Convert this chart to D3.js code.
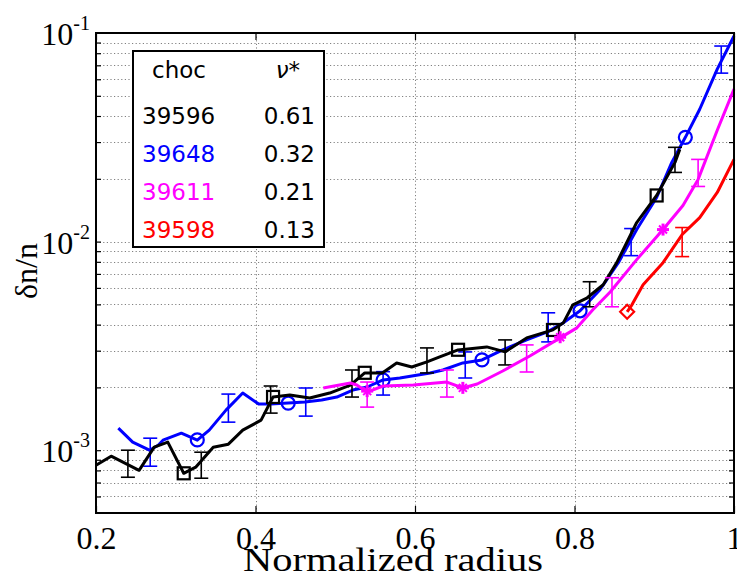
<!DOCTYPE html>
<html><head><meta charset="utf-8">
<script src="https://cdn.jsdelivr.net/npm/d3@7"></script>
<style>body{margin:0;background:#fff}svg{display:block}</style>
</head><body>
<svg id="c" width="737" height="587"></svg>
<script>
// ---- data ----
const xTicks = [0.2, 0.4, 0.6, 0.8, 1];
const xTickLabels = ["0.2", "0.4", "0.6", "0.8", "1"];
const xGrid = [0.4, 0.6, 0.8];
const yTicks = [1e-3, 1e-2, 1e-1];
const yTickExp = ["-3", "-2", "-1"];

const blackR = [0.200,0.219,0.254,0.273,0.290,0.310,0.325,0.347,0.366,0.384,0.407,0.422,0.443,0.468,0.493,0.519,0.537,0.559,0.577,0.596,0.615,0.631,0.654,0.690,0.713,0.740,0.773,0.786,0.798,0.816,0.836,0.853,0.878,0.903,0.926,0.932];
const blackV = [0.000847,0.000936,0.000801,0.001034,0.001093,0.000775,0.000829,0.001034,0.001069,0.001248,0.001393,0.001798,0.001838,0.001778,0.001879,0.002053,0.002346,0.002346,0.002620,0.002506,0.002649,0.002800,0.003025,0.003127,0.002959,0.003455,0.003774,0.004079,0.004978,0.005379,0.006213,0.007926,0.012343,0.016640,0.02398,0.02768];
const blackMarkR = [0.310,0.422,0.537,0.654,0.773,0.903];
const blackMarkV = [0.000775,0.00180,0.00235,0.00303,0.00377,0.01664];
const blackErrR = [0.240,0.332,0.419,0.521,0.615,0.713,0.819,0.926];
const blackErrHi = [0.00100,0.000978,0.002031,0.002424,0.003093,0.003379,0.006421,0.02831];
const blackErrLo = [0.000742,0.000734,0.001506,0.001798,0.002346,0.002563,0.004870,0.02146];

const blueR = [0.228,0.246,0.267,0.278,0.284,0.307,0.327,0.342,0.363,0.384,0.404,0.419,0.441,0.462,0.483,0.502,0.522,0.540,0.560,0.581,0.619,0.635,0.660,0.684,0.710,0.740,0.766,0.786,0.807,0.832,0.855,0.878,0.903,0.922,0.939,0.957,0.979,1.0];
const blueV = [0.001276,0.001093,0.001000,0.001057,0.001117,0.001207,0.001117,0.001248,0.001557,0.001879,0.001664,0.001664,0.001682,0.001701,0.001739,0.001798,0.001943,0.002009,0.002171,0.002219,0.002346,0.002424,0.002620,0.002708,0.003025,0.003379,0.003693,0.004079,0.004659,0.005877,0.007926,0.011420,0.016276,0.02398,0.03162,0.04311,0.06712,0.0967];
const blueMarkR = [0.327,0.441,0.560,0.684,0.807,0.939];
const blueMarkV = [0.00112,0.00168,0.00217,0.00271,0.00466,0.0316];
const blueErrR = [0.268,0.366,0.463,0.560,0.663,0.767,0.871,0.984];
const blueErrHi = [0.001142,0.001858,0.001987,0.002380,0.002959,0.004557,0.011547,0.08660];
const blueErrLo = [0.000838,0.001363,0.001457,0.001838,0.002219,0.003305,0.008563,0.06421];

const magR = [0.485,0.519,0.527,0.540,0.560,0.598,0.640,0.660,0.678,0.710,0.744,0.782,0.803,0.823,0.845,0.878,0.911,0.936,0.955,0.979,1.0];
const magV = [0.001987,0.002099,0.002053,0.001900,0.002031,0.002053,0.002122,0.001987,0.002077,0.002398,0.002830,0.003455,0.003859,0.004710,0.005750,0.008195,0.01142,0.01490,0.01987,0.03418,0.05380];
const magMarkR = [0.540,0.660,0.782,0.911];
const magMarkV = [0.00192,0.00199,0.00348,0.01142];
const magErrR = [0.540,0.640,0.740,0.847,0.955];
const magErrHi = [0.002122,0.002424,0.003197,0.006712,0.02478];
const magErrLo = [0.001609,0.001798,0.002371,0.004870,0.01838];

const redR = [0.866,0.872,0.886,0.911,0.935,0.957,0.979,1.0];
const redV = [0.004607,0.004978,0.006213,0.007926,0.01081,0.01304,0.01720,0.02478];
const redMarkR = [0.866];
const redMarkV = [0.00461];
const redErrR = [0.935];
const redErrHi = [0.01168];
const redErrLo = [0.008473];

const legendShots = ["39596", "39648", "39611", "39598"];
const legendNu = ["0.61", "0.32", "0.21", "0.13"];
const legendColors = ["#000000", "#0000ff", "#ff00ff", "#ff0000"];

// ---- drawing ----
const svg = d3.select("#c");
const L = 96, R = 734, T = 33, B = 513;
const x = d3.scaleLinear().domain([0.2, 1]).range([L, R]);
const y = d3.scaleLog().domain([5e-4, 0.1]).range([B, T]);

const serif = "'Liberation Serif','Times New Roman',serif";
const sans = "'DejaVu Sans',sans-serif";

// grid
const grid = svg.append("g").attr("stroke", "#808080").attr("stroke-width", 1).attr("stroke-dasharray", "1.2,2.4");
y.ticks().filter(v => v > 5.01e-4 && v < 0.099).forEach(v => {
  grid.append("line").attr("x1", L).attr("x2", R).attr("y1", Math.round(y(v)) + 0.5).attr("y2", Math.round(y(v)) + 0.5);
});
xGrid.forEach(v => {
  grid.append("line").attr("y1", T).attr("y2", B).attr("x1", Math.round(x(v)) + 0.5).attr("x2", Math.round(x(v)) + 0.5);
});

// axes ticks (inside)
const minorY = y.ticks().filter(v => v > 5.01e-4 && v < 0.099);
const axL = svg.append("g").attr("transform", `translate(${L},0)`)
  .call(d3.axisLeft(y).tickValues(minorY).tickSize(-5).tickFormat(""));
const axR = svg.append("g").attr("transform", `translate(${R},0)`)
  .call(d3.axisRight(y).tickValues(minorY).tickSize(-5).tickFormat(""));
const axB = svg.append("g").attr("transform", `translate(0,${B})`)
  .call(d3.axisBottom(x).tickValues(xTicks).tickSize(-7).tickPadding(13).tickFormat((d, i) => xTickLabels[i]));
const axT = svg.append("g").attr("transform", `translate(0,${T})`)
  .call(d3.axisTop(x).tickValues(xTicks).tickSize(-7).tickFormat(""));
[axL, axR, axB, axT].forEach(a => {
  a.select(".domain").remove();
  a.selectAll(".tick line").attr("stroke", "#000").attr("stroke-width", 1.2);
});
axB.selectAll("text").attr("font-family", serif).attr("font-size", 32).attr("fill", "#000");

// y labels
yTicks.forEach((v, i) => {
  const t = svg.append("text").attr("x", 90).attr("y", y(v) + 12)
    .attr("text-anchor", "end").attr("font-family", serif).attr("font-size", 32).attr("fill", "#000");
  t.append("tspan").text("10");
  t.append("tspan").attr("dy", -15).attr("font-size", 20).text(yTickExp[i]);
});

// axis titles
svg.append("text").attr("x", 393).attr("y", 571).attr("text-anchor", "middle")
  .attr("font-family", serif).attr("font-size", 33).attr("textLength", 300).attr("lengthAdjust", "spacingAndGlyphs")
  .attr("fill", "#000").text("Normalized radius");
svg.append("text").attr("transform", "translate(37,271) rotate(-90)").attr("text-anchor", "middle")
  .attr("font-family", serif).attr("font-size", 32).attr("fill", "#000").text("δn/n");

// series
const line = d3.line().x(d => x(d[0])).y(d => y(d[1]));
const plot = svg.append("g");
function errbars(color, rs, lo, hi) {
  const g = plot.append("g").attr("stroke", color).attr("stroke-width", 1.6).attr("fill", "none");
  rs.forEach((r, i) => {
    const cx = x(r), y1 = y(hi[i]), y2 = y(lo[i]);
    g.append("line").attr("x1", cx).attr("x2", cx).attr("y1", y1).attr("y2", y2);
    g.append("line").attr("x1", cx - 7).attr("x2", cx + 7).attr("y1", y1).attr("y2", y1);
    g.append("line").attr("x1", cx - 7).attr("x2", cx + 7).attr("y1", y2).attr("y2", y2);
  });
}
function series(color, rs, vs) {
  plot.append("path").datum(rs.map((r, i) => [r, vs[i]])).attr("d", line)
    .attr("fill", "none").attr("stroke", color).attr("stroke-width", 3).attr("stroke-linejoin", "round");
}
function markers(color, rs, vs, type) {
  const g = plot.append("g").attr("stroke", color).attr("stroke-width", 2.2).attr("fill", "none");
  rs.forEach((r, i) => {
    const cx = x(r), cy = y(vs[i]);
    if (type === "square") g.append("rect").attr("x", cx - 6).attr("y", cy - 6).attr("width", 12).attr("height", 12);
    else if (type === "circle") g.append("circle").attr("cx", cx).attr("cy", cy).attr("r", 6.5);
    else if (type === "plus") {
      g.append("line").attr("x1", cx - 6).attr("x2", cx + 6).attr("y1", cy).attr("y2", cy).attr("stroke-width", 3);
      g.append("line").attr("x1", cx).attr("x2", cx).attr("y1", cy - 6).attr("y2", cy + 6).attr("stroke-width", 3);
      g.append("line").attr("x1", cx - 4).attr("x2", cx + 4).attr("y1", cy - 4).attr("y2", cy + 4).attr("stroke-width", 2);
      g.append("line").attr("x1", cx - 4).attr("x2", cx + 4).attr("y1", cy + 4).attr("y2", cy - 4).attr("stroke-width", 2);
    }
    else if (type === "diamond") g.append("path").attr("d", `M${cx},${cy - 7}L${cx + 7},${cy}L${cx},${cy + 7}L${cx - 7},${cy}Z`);
  });
}
series("#0000ff", blueR, blueV); errbars("#0000ff", blueErrR, blueErrLo, blueErrHi); markers("#0000ff", blueMarkR, blueMarkV, "circle");
series("#000000", blackR, blackV); errbars("#000000", blackErrR, blackErrLo, blackErrHi); markers("#000000", blackMarkR, blackMarkV, "square");
series("#ff00ff", magR, magV); errbars("#ff00ff", magErrR, magErrLo, magErrHi); markers("#ff00ff", magMarkR, magMarkV, "plus");
series("#ff0000", redR, redV); errbars("#ff0000", redErrR, redErrLo, redErrHi); markers("#ff0000", redMarkR, redMarkV, "diamond");

// frame
svg.append("rect").attr("x", L).attr("y", T).attr("width", R - L).attr("height", B - T)
  .attr("fill", "none").attr("stroke", "#000").attr("stroke-width", 2);

// legend
const lg = svg.append("g");
lg.append("rect").attr("x", 133).attr("y", 51).attr("width", 191).attr("height", 196)
  .attr("fill", "#fff").attr("stroke", "#000").attr("stroke-width", 2);
lg.append("text").attr("x", 152).attr("y", 78).attr("font-family", sans).attr("font-size", 23).attr("fill", "#000").text("choc");
const nu = lg.append("text").attr("x", 300).attr("y", 78).attr("text-anchor", "end").attr("font-family", sans).attr("font-size", 23).attr("fill", "#000");
nu.append("tspan").attr("font-style", "italic").text("ν");
nu.append("tspan").text("*");
const rowY = [124, 162, 200, 238];
legendShots.forEach((s, i) => {
  lg.append("text").attr("x", 142).attr("y", rowY[i]).attr("font-family", sans).attr("font-size", 23).attr("fill", legendColors[i]).text(s);
  lg.append("text").attr("x", 315).attr("y", rowY[i]).attr("text-anchor", "end").attr("font-family", sans).attr("font-size", 23).attr("fill", "#000").text(legendNu[i]);
});
</script>
</body></html>
